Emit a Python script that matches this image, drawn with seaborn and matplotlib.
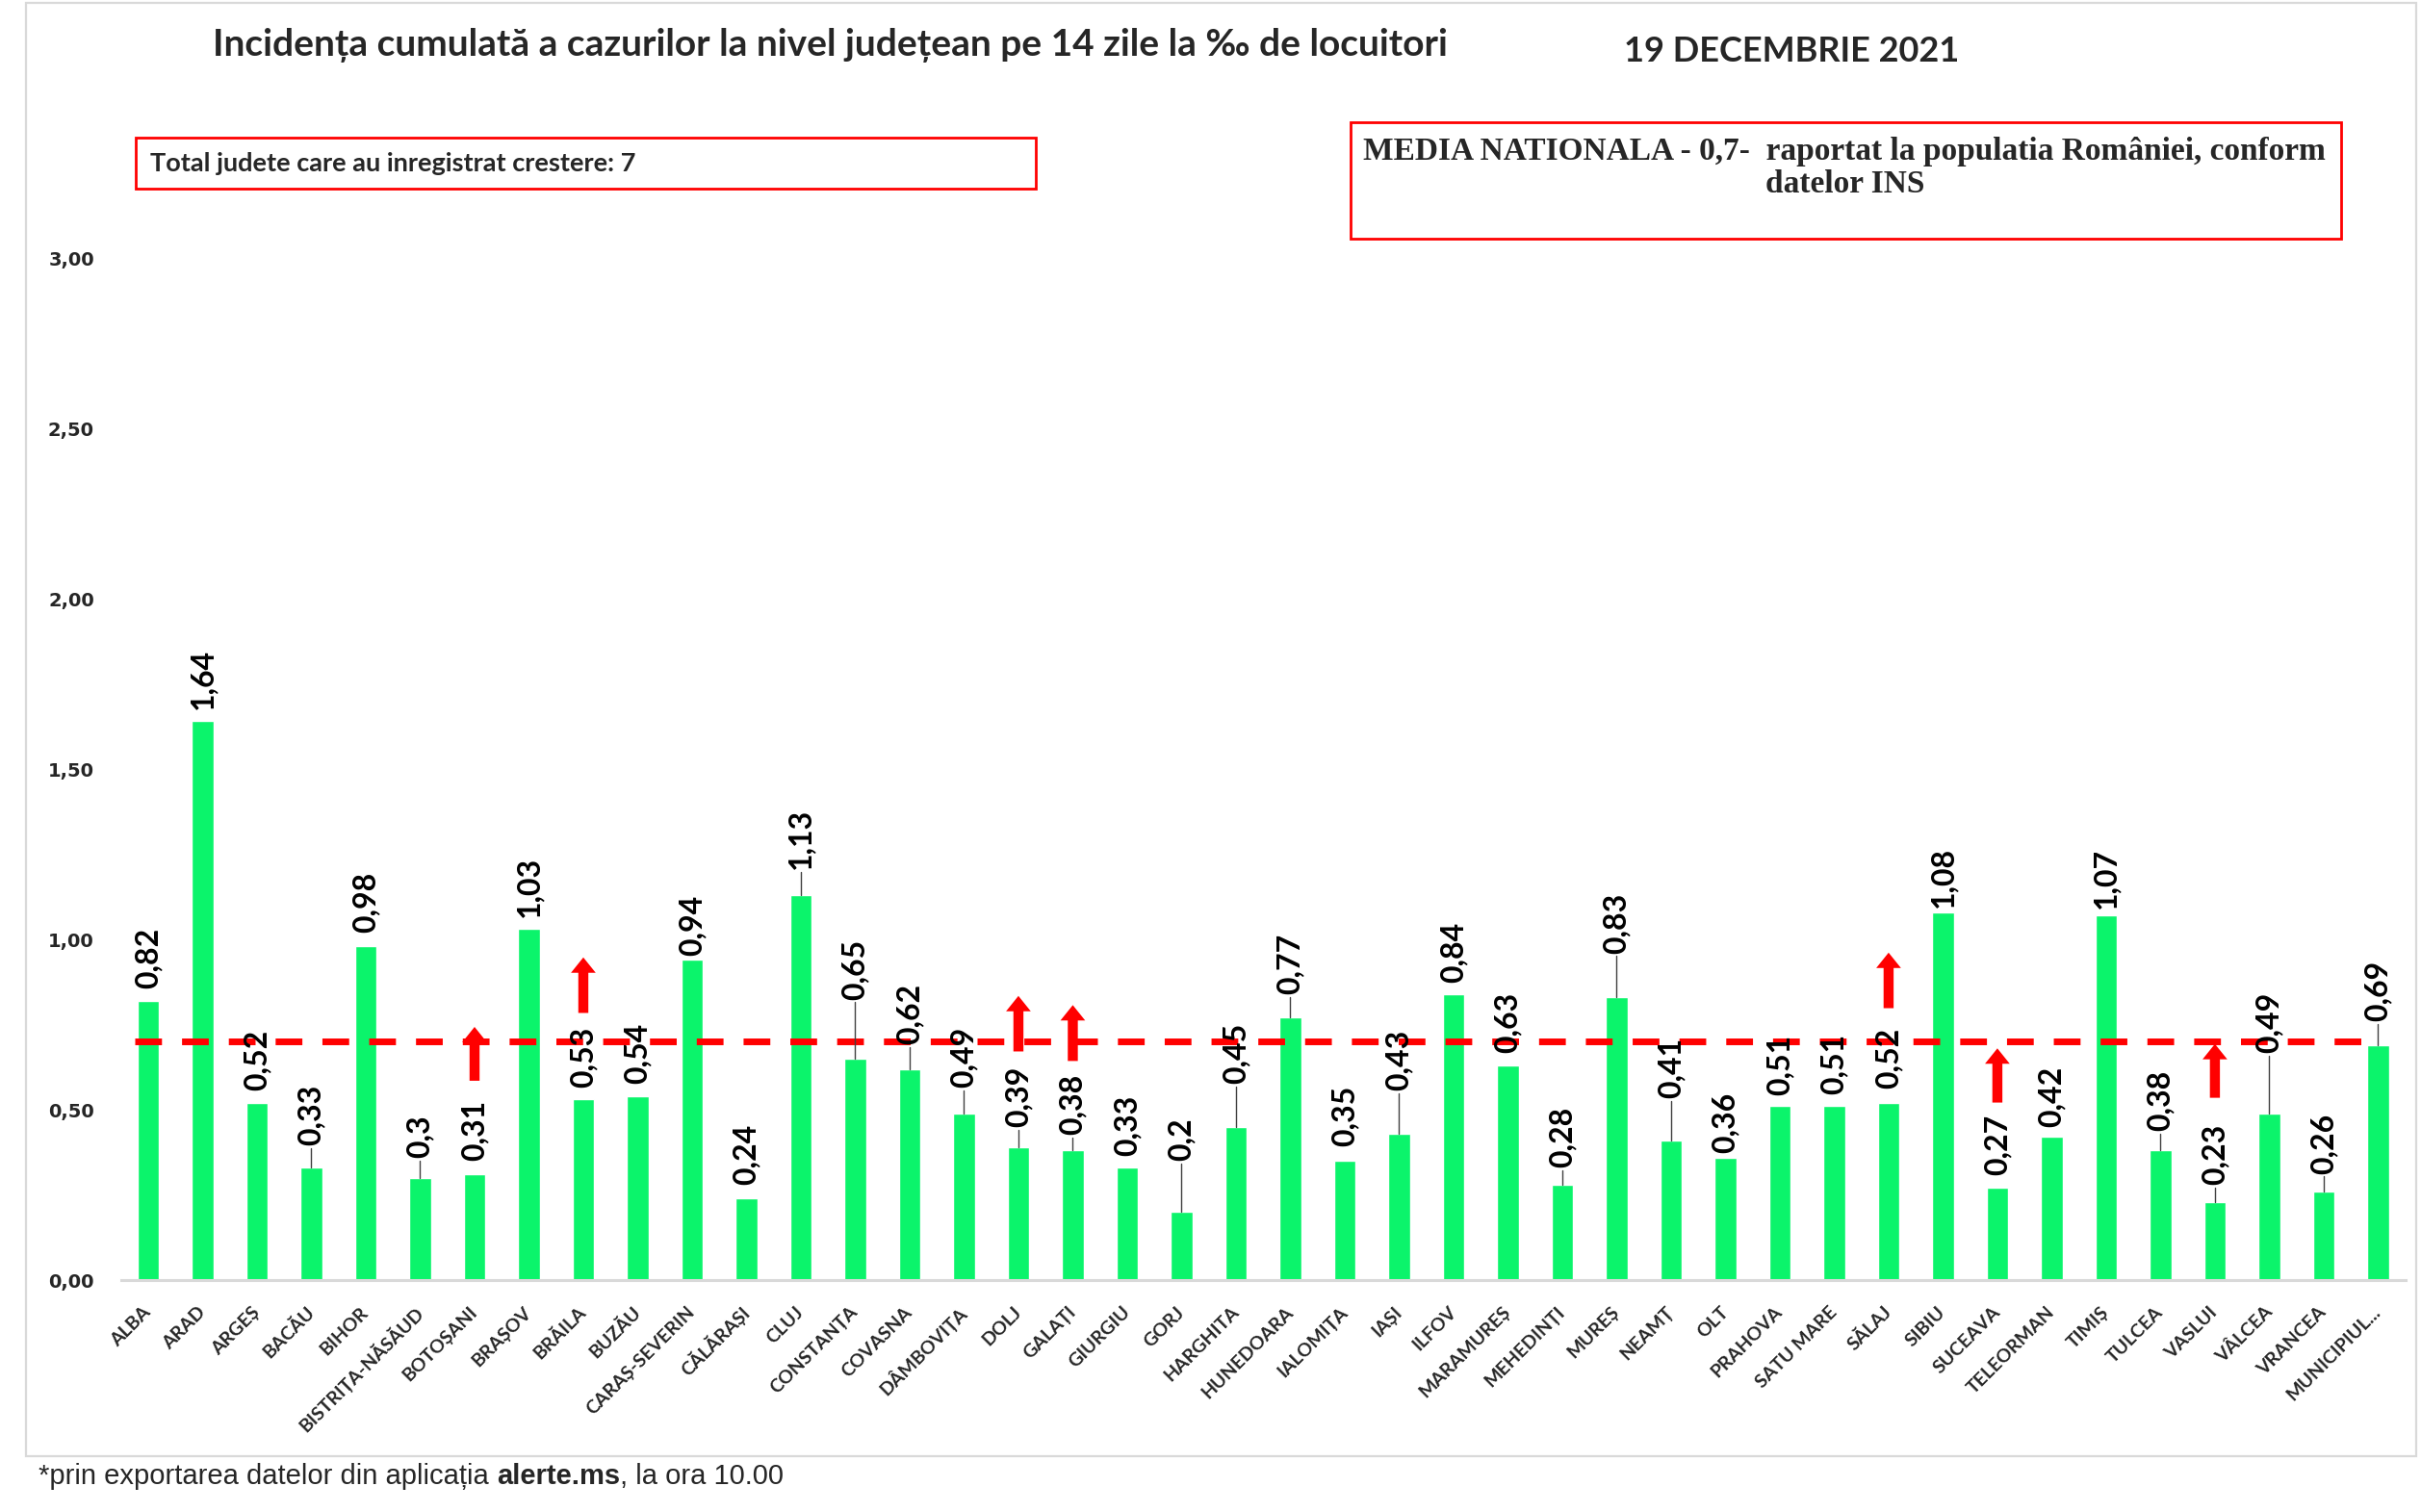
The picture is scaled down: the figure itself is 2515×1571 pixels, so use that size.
import matplotlib
matplotlib.use("Agg")
import matplotlib.pyplot as plt
from matplotlib.patches import Rectangle
import numpy as np
import pandas as pd
import seaborn as sns

# incidenta cumulata pe 14 zile la 1000 de locuitori, 19.12.2021
counties = [
    "ALBA", "ARAD", "ARGEȘ", "BACĂU", "BIHOR", "BISTRIȚA-NĂSĂUD", "BOTOȘANI",
    "BRAȘOV", "BRĂILA", "BUZĂU", "CARAȘ-SEVERIN", "CĂLĂRAȘI", "CLUJ",
    "CONSTANȚA", "COVASNA", "DÂMBOVIȚA", "DOLJ", "GALAȚI", "GIURGIU", "GORJ",
    "HARGHITA", "HUNEDOARA", "IALOMIȚA", "IAȘI", "ILFOV", "MARAMUREȘ",
    "MEHEDINȚI", "MUREȘ", "NEAMȚ", "OLT", "PRAHOVA", "SATU MARE", "SĂLAJ",
    "SIBIU", "SUCEAVA", "TELEORMAN", "TIMIȘ", "TULCEA", "VASLUI", "VÂLCEA",
    "VRANCEA", "MUNICIPIUL...",
]
incidence = [
    0.82, 1.64, 0.52, 0.33, 0.98, 0.3, 0.31,
    1.03, 0.53, 0.54, 0.94, 0.24, 1.13,
    0.65, 0.62, 0.49, 0.39, 0.38, 0.33, 0.2,
    0.45, 0.77, 0.35, 0.43, 0.84, 0.63,
    0.28, 0.83, 0.41, 0.36, 0.51, 0.51, 0.52,
    1.08, 0.27, 0.42, 1.07, 0.38, 0.23, 0.49,
    0.26, 0.69,
]
national_avg = 0.7

# judetele cu crestere (sageti rosii)
rising = ["BOTOȘANI", "BRĂILA", "DOLJ", "GALAȚI", "SĂLAJ", "SUCEAVA", "VASLUI"]
arrow_base = [0.585, 0.784, 0.671, 0.643, 0.798, 0.521, 0.535]
arrow_tip = [0.743, 0.947, 0.834, 0.807, 0.961, 0.680, 0.693]

# cat de sus sta eticheta fata de bara (unele au linie de legatura)
label_lift = [
    0.035, 0.035, 0.037, 0.065, 0.040, 0.058, 0.039,
    0.035, 0.035, 0.036, 0.012, 0.039, 0.077,
    0.173, 0.073, 0.074, 0.060, 0.047, 0.035, 0.150,
    0.125, 0.068, 0.044, 0.126, 0.034, 0.038,
    0.050, 0.129, 0.123, 0.014, 0.032, 0.035, 0.041,
    0.014, 0.038, 0.030, 0.020, 0.057, 0.049, 0.176,
    0.052, 0.069,
]

BAR_GREEN = "#0BF46B"
LATO = ["Lato", "DejaVu Sans"]


def fmt_ro(v, decimals=None):
    if decimals is None:
        return f"{v:g}".replace(".", ",")
    return f"{v:.{decimals}f}".replace(".", ",")


def draw_chart():
    sns.set_theme(style="white")
    plt.rcParams["font.family"] = LATO

    fig = plt.figure(figsize=(25.15, 15.71), dpi=100)
    ax = fig.add_axes([0.050, 0.1534, 0.9435, 0.676])

    df = pd.DataFrame({"judet": counties, "incidenta": incidence})
    sns.barplot(data=df, x="judet", y="incidenta", color=BAR_GREEN,
                saturation=1, width=0.4, errorbar=None, ax=ax)

    ax.set_xlim(-0.5, len(counties) - 0.5)
    ax.set_ylim(0, 3.0)
    yt = np.arange(0, 3.01, 0.5)
    ax.set_yticks(yt)
    ax.set_yticklabels([fmt_ro(t, 2) for t in yt], fontfamily="DejaVu Sans",
                       fontweight="bold", fontsize=14)
    ax.tick_params(axis="y", length=0, pad=20)
    ax.set_xticks(range(len(counties)))
    ax.set_xticklabels(counties, rotation=45, ha="right", va="center",
                       rotation_mode="anchor", fontsize=14, fontweight="bold")
    ax.tick_params(axis="x", length=0, pad=22)
    ax.set_xlabel("")
    ax.set_ylabel("")
    for side in ["left", "right", "top"]:
        ax.spines[side].set_visible(False)
    ax.spines["bottom"].set_color("#D9D9D9")
    ax.spines["bottom"].set_linewidth(2.2)

    # media nationala
    ax.hlines(national_avg, -0.25, len(counties) - 1, colors="#FF0000",
              linewidth=5, linestyles=(0, (4.0, 3.0)), zorder=3)

    # etichete de valoare, verticale
    for i, (v, lift) in enumerate(zip(incidence, label_lift)):
        ax.text(i, v + lift, fmt_ro(v), rotation=90, ha="center", va="bottom",
                fontsize=23, fontweight="bold", color="black", zorder=5)
        if lift > 0.045:
            ax.plot([i, i], [v, v + lift - 0.008], color="#404040", lw=1.0,
                    zorder=4)

    # sageti pentru judetele in crestere
    for name, b, t in zip(rising, arrow_base, arrow_tip):
        i = counties.index(name)
        ax.annotate("", xy=(i, t), xytext=(i, b),
                    arrowprops=dict(arrowstyle="simple,head_length=1.15,head_width=1.85,tail_width=0.75",
                                    color="#FF0000", mutation_scale=10,
                                    shrinkA=0, shrinkB=0, lw=0),
                    zorder=6)

    # titlu si data
    fig.text(0.343, 0.970, "Incidența cumulată a cazurilor la nivel județean pe 14 zile la ‰ de locuitori",
             ha="center", va="center", fontsize=28, fontweight="bold")
    fig.text(0.740, 0.966, "19 DECEMBRIE 2021", ha="center", va="center",
             fontsize=26, fontweight="bold")

    # casete
    fig.patches.append(Rectangle((0.0561, 0.875), 0.3719, 0.034, transform=fig.transFigure,
                                 fill=False, edgecolor="#FF0000", lw=2))
    fig.text(0.0619, 0.892, "Total judete care au inregistrat crestere: 7",
             ha="left", va="center", fontsize=19.5, fontweight="bold")
    fig.patches.append(Rectangle((0.558, 0.842), 0.409, 0.077, transform=fig.transFigure,
                                 fill=False, edgecolor="#FF0000", lw=2))
    fig.text(0.762, 0.889,
             "MEDIA NATIONALA - 0,7-  raportat la populatia României, conform\ndatelor INS",
             ha="center", va="center", multialignment="center", linespacing=1.1,
             fontsize=24, fontweight="bold", fontfamily=["Liberation Serif", "DejaVu Serif"])

    # chenar gri al graficului
    fig.patches.append(Rectangle((0.0107, 0.0369), 0.9873, 0.961, transform=fig.transFigure,
                                 fill=False, edgecolor="#D9D9D9", lw=1.6))

    # nota de subsol, cu "alerte.ms" ingrosat
    arial = ["Liberation Sans", "DejaVu Sans"]
    t1 = fig.text(0.016, 0.0235, "*prin exportarea datelor din aplicația ",
                  ha="left", va="center", fontsize=21, fontfamily=arial)
    t2 = ax.annotate("alerte.ms", xy=(1, 0), xycoords=t1, ha="left", va="bottom",
                     fontsize=21, fontweight="bold", fontfamily=arial,
                     annotation_clip=False)
    ax.annotate(", la ora 10.00", xy=(1, 0), xycoords=t2, ha="left", va="bottom",
                fontsize=21, fontfamily=arial, annotation_clip=False)

    fig.savefig("out.png", dpi=100)


if __name__ == "__main__":
    draw_chart()
